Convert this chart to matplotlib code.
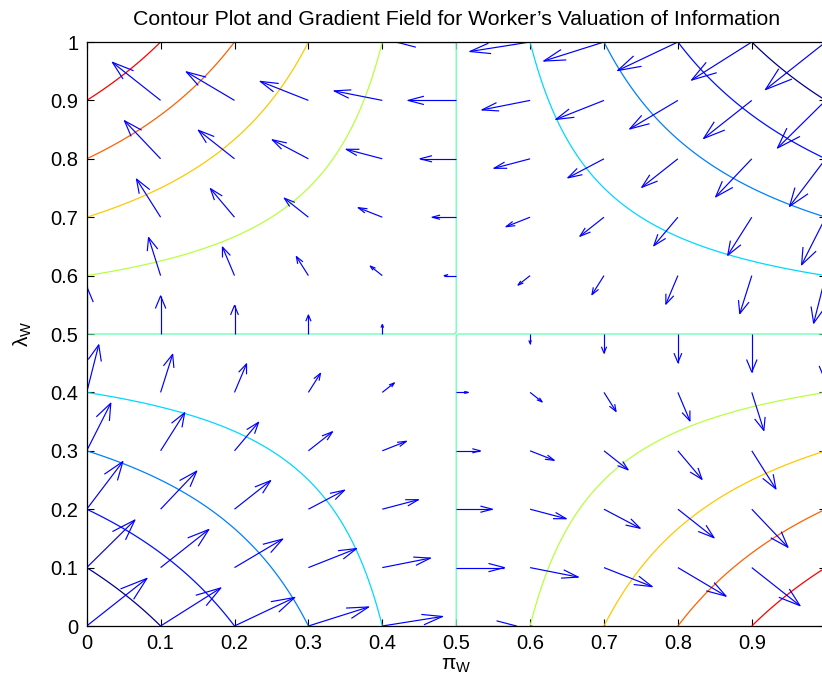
import numpy as np
import matplotlib
matplotlib.use("Agg")
import matplotlib.pyplot as plt
from matplotlib.collections import LineCollection

plt.rcParams["font.family"] = ["Liberation Sans", "DejaVu Sans"]
plt.rcParams["mathtext.fontset"] = "custom"
plt.rcParams["mathtext.rm"] = "Liberation Sans"
plt.rcParams["mathtext.it"] = "Liberation Sans:italic"

# contour levels and their line colours (jet-like)
levels = [-0.2, -0.15, -0.1, -0.05, 0.0, 0.05, 0.1, 0.15, 0.2]
level_colors = ["#00008c", "#0010ff", "#0080ff", "#00d8ff", "#60ffb0",
                "#b8ff40", "#ffc800", "#ff6000", "#ff0000"]

# grid of the gradient arrows
arrow_pi = [0.0, 0.1, 0.2, 0.3, 0.4, 0.5, 0.6, 0.7, 0.8, 0.9, 1.0]
arrow_lam = [0.0, 0.1, 0.2, 0.3, 0.4, 0.5, 0.6, 0.7, 0.8, 0.9, 1.0]
arrow_scale = 0.163

xticks = [0, 0.1, 0.2, 0.3, 0.4, 0.5, 0.6, 0.7, 0.8, 0.9]
xticklabels = ["0", "0.1", "0.2", "0.3", "0.4", "0.5", "0.6", "0.7", "0.8", "0.9"]
yticks = [0, 0.1, 0.2, 0.3, 0.4, 0.5, 0.6, 0.7, 0.8, 0.9, 1.0]
yticklabels = ["0", "0.1", "0.2", "0.3", "0.4", "0.5", "0.6", "0.7", "0.8", "0.9", "1"]


def valuation(pi, lam):
    return (0.5 - pi) * (lam - 0.5)


def valuation_grad(pi, lam):
    return -(lam - 0.5), (0.5 - pi)


def arrow_segments(x, y, u, v, alpha=0.33, beta=0.33):
    # matlab-style quiver: shaft plus two open barbs
    segs = []
    for x0, y0, du, dv in zip(x, y, u, v):
        tx, ty = x0 + du, y0 + dv
        segs.append([(x0, y0), (tx, ty)])
        segs.append([(tx - alpha * (du + beta * dv), ty - alpha * (dv - beta * du)),
                     (tx, ty),
                     (tx - alpha * (du - beta * dv), ty - alpha * (dv + beta * du))])
    return segs


fig = plt.figure(figsize=(8.22, 6.84), dpi=100)
ax = fig.add_axes([86.7 / 822, 58 / 684, 739 / 822, 584 / 684])

gx = np.linspace(0, 1, 200)
gy = np.linspace(0, 1, 200)
PX, LY = np.meshgrid(gx, gy)
ax.contour(PX, LY, valuation(PX, LY), levels=levels, colors=level_colors,
           linewidths=0.9, linestyles="solid")

QX, QY = np.meshgrid(arrow_pi, arrow_lam)
U, V = valuation_grad(QX, QY)
segs = arrow_segments(QX.ravel(), QY.ravel(),
                      arrow_scale * U.ravel(), arrow_scale * V.ravel())
ax.add_collection(LineCollection(segs, colors="#0000ff", linewidths=0.85))

ax.set_xlim(0, 1)
ax.set_ylim(0, 1)
ax.set_xticks(xticks)
ax.set_xticklabels(xticklabels)
ax.set_yticks(yticks)
ax.set_yticklabels(yticklabels)
ax.tick_params(direction="in", top=True, right=True, length=5, width=0.8,
               labelsize=14.5, pad=6)
for sp in ax.spines.values():
    sp.set_linewidth(0.9)

ax.set_title("Contour Plot and Gradient Field for Worker\u2019s Valuation of Information",
             fontsize=15.3, pad=12)
ax.set_xlabel(r"$\mathregular{\pi_W}$", fontsize=15, labelpad=2)
ax.set_ylabel(r"$\mathregular{\lambda_W}$", fontsize=15, labelpad=12)

fig.savefig("out.png", dpi=100)
